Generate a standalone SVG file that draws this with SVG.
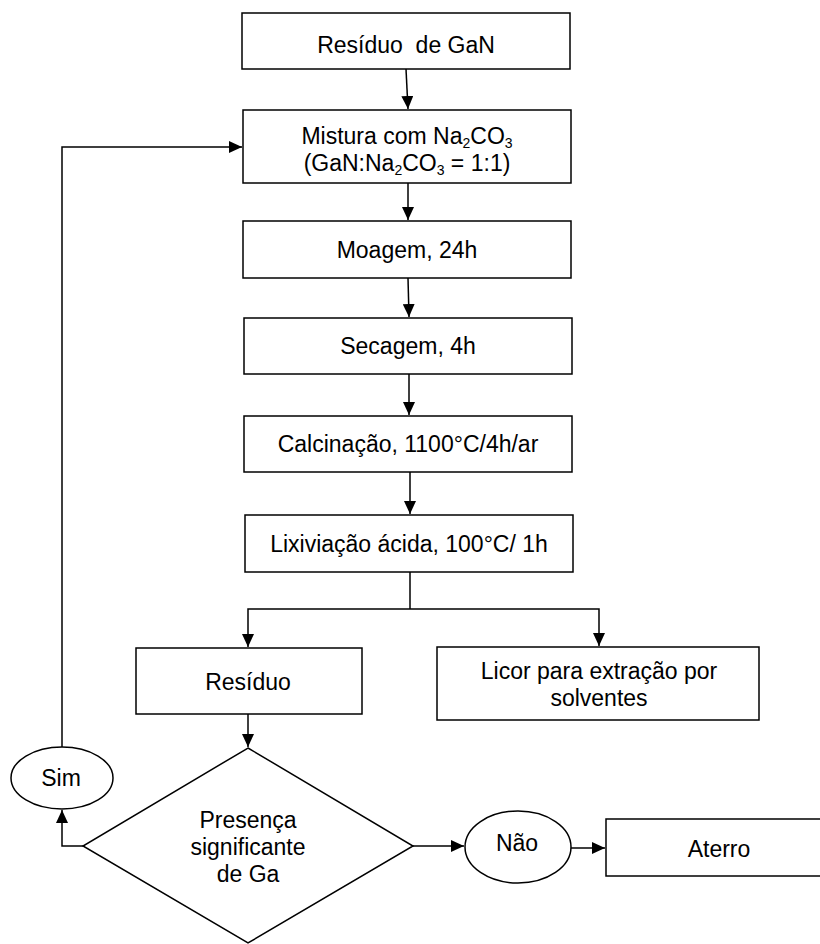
<svg xmlns="http://www.w3.org/2000/svg" width="820" height="944" viewBox="0 0 820 944">
  <style>
    .box { fill: #fff; stroke: #000; stroke-width: 1.5; }
    .lbl { font-family: "Liberation Sans", Arial, sans-serif; font-size: 23px; fill: #000; text-anchor: middle; }
    .sub { font-size: 14px; }
    .con { fill: none; stroke: #000; stroke-width: 1.5; }
  </style>
  <defs>
    <marker id="arrow" markerUnits="userSpaceOnUse" markerWidth="13" markerHeight="12" refX="13" refY="6" orient="auto">
      <path d="M0,0 L13,6 L0,12 Z" fill="#000"/>
    </marker>
  </defs>

  <rect width="820" height="944" fill="#fff"/>

  <!-- connectors -->
  <g id="connectors">
    <path class="con" d="M406,69 L408,109" marker-end="url(#arrow)"/>
    <path class="con" d="M408,183 L408,220" marker-end="url(#arrow)"/>
    <path class="con" d="M408,278 L409,317" marker-end="url(#arrow)"/>
    <path class="con" d="M409,374 L409,415" marker-end="url(#arrow)"/>
    <path class="con" d="M410,472 L410,514" marker-end="url(#arrow)"/>
    <path class="con" d="M410,572 L410,609"/>
    <path class="con" d="M410,609 L248,609 L248,647" marker-end="url(#arrow)"/>
    <path class="con" d="M410,609 L599,609 L599,646" marker-end="url(#arrow)"/>
    <path class="con" d="M248,714 L248,747" marker-end="url(#arrow)"/>
    <path class="con" d="M83,846 L62,846 L62,810" marker-end="url(#arrow)"/>
    <path class="con" d="M62,747 L62,147 L242,147" marker-end="url(#arrow)"/>
    <path class="con" d="M413,846 L464,846" marker-end="url(#arrow)"/>
    <path class="con" d="M571,848 L605,848" marker-end="url(#arrow)"/>
  </g>

  <!-- process steps -->
  <g id="residuo-gan">
    <rect class="box" x="242" y="13" width="328" height="56"/>
    <text class="lbl" x="406" y="53" xml:space="preserve">Resíduo  de GaN</text>
  </g>

  <g id="mistura">
    <rect class="box" x="243" y="110" width="328" height="73"/>
    <text class="lbl" x="407" y="144">Mistura com Na<tspan class="sub" dy="4">2</tspan><tspan dy="-4">CO</tspan><tspan class="sub" dy="4">3</tspan></text>
    <text class="lbl" x="407" y="171">(GaN:Na<tspan class="sub" dy="4">2</tspan><tspan dy="-4">CO</tspan><tspan class="sub" dy="4">3</tspan><tspan dy="-4"> = 1:1)</tspan></text>
  </g>

  <g id="moagem">
    <rect class="box" x="243" y="221" width="328" height="57"/>
    <text class="lbl" x="407" y="258">Moagem, 24h</text>
  </g>

  <g id="secagem">
    <rect class="box" x="244" y="318" width="328" height="56"/>
    <text class="lbl" x="408" y="354">Secagem, 4h</text>
  </g>

  <g id="calcinacao">
    <rect class="box" x="244" y="416" width="328" height="56"/>
    <text class="lbl" x="408" y="452">Calcinação, 1100°C/4h/ar</text>
  </g>

  <g id="lixiviacao">
    <rect class="box" x="245" y="515" width="328" height="57"/>
    <text class="lbl" x="409" y="552">Lixiviação ácida, 100°C/ 1h</text>
  </g>

  <g id="residuo">
    <rect class="box" x="136" y="648" width="226" height="66"/>
    <text class="lbl" x="248" y="690">Resíduo</text>
  </g>

  <g id="licor">
    <rect class="box" x="437" y="647" width="322" height="73"/>
    <text class="lbl" x="599" y="679">Licor para extração por</text>
    <text class="lbl" x="599" y="706">solventes</text>
  </g>

  <!-- decision -->
  <g id="decisao">
    <polygon class="box" points="248,748 413,846 248,943 83,846"/>
    <text class="lbl" x="248" y="828">Presença</text>
    <text class="lbl" x="248" y="855">significante</text>
    <text class="lbl" x="248" y="882">de Ga</text>
  </g>

  <g id="sim">
    <ellipse class="box" cx="62" cy="778" rx="51" ry="31"/>
    <text class="lbl" x="61" y="786">Sim</text>
  </g>

  <g id="nao">
    <ellipse class="box" cx="518" cy="847" rx="53" ry="36"/>
    <text class="lbl" x="517" y="851">Não</text>
  </g>

  <g id="aterro">
    <rect class="box" x="606" y="819" width="220" height="57"/>
    <text class="lbl" x="719" y="857">Aterro</text>
  </g>
</svg>
